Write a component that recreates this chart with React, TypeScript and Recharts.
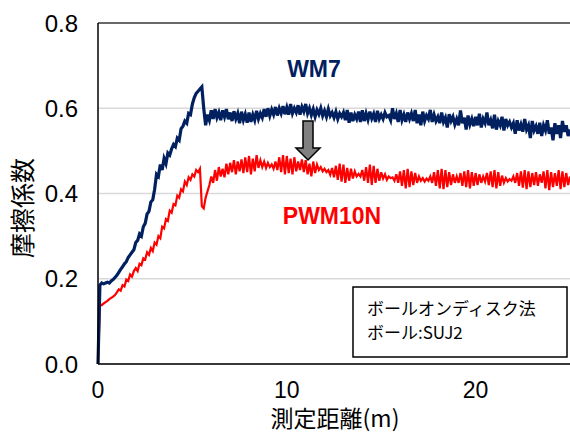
import React from "react"
import { LineChart, Line, XAxis, YAxis, CartesianGrid, ReferenceLine } from "recharts"

// sliding distance sampled every 0.1 m, 0 .. 25 m
const STEP_M = 0.1

// friction coefficient, WM7 (navy)
const wm7 = [
  0.0, 0.185, 0.19, 0.188, 0.19, 0.192, 0.19, 0.195, 0.198, 0.203,
  0.208, 0.215, 0.222, 0.228, 0.235, 0.24, 0.25, 0.256, 0.262, 0.268,
  0.285, 0.29, 0.305, 0.3, 0.322, 0.33, 0.352, 0.358, 0.38, 0.385,
  0.41, 0.445, 0.44, 0.468, 0.455, 0.482, 0.47, 0.495, 0.49, 0.505,
  0.515, 0.51, 0.53, 0.525, 0.552, 0.558, 0.57, 0.565, 0.588, 0.585,
  0.61, 0.625, 0.635, 0.64, 0.645, 0.65, 0.6, 0.56, 0.585, 0.572,
  0.595, 0.575, 0.598, 0.578, 0.59, 0.572, 0.595, 0.58, 0.598, 0.574,
  0.59, 0.57, 0.593, 0.575, 0.588, 0.565, 0.592, 0.572, 0.586, 0.566,
  0.59, 0.568, 0.585, 0.572, 0.594, 0.575, 0.588, 0.578, 0.598, 0.58,
  0.6, 0.582, 0.597, 0.585, 0.603, 0.583, 0.6, 0.588, 0.605, 0.586,
  0.602, 0.585, 0.61, 0.588, 0.6, 0.59, 0.607, 0.585, 0.603, 0.592,
  0.61, 0.588, 0.6, 0.584, 0.598, 0.58, 0.596, 0.586, 0.6, 0.582,
  0.594, 0.58, 0.598, 0.582, 0.59, 0.578, 0.592, 0.575, 0.588, 0.58,
  0.59, 0.572, 0.596, 0.566, 0.59, 0.57, 0.585, 0.575, 0.592, 0.568,
  0.595, 0.57, 0.588, 0.573, 0.592, 0.576, 0.587, 0.568, 0.594, 0.575,
  0.585, 0.575, 0.59, 0.58, 0.583, 0.572, 0.6, 0.575, 0.588, 0.568,
  0.596, 0.572, 0.585, 0.568, 0.59, 0.575, 0.588, 0.57, 0.596, 0.565,
  0.585, 0.56, 0.592, 0.57, 0.583, 0.575, 0.596, 0.568, 0.585, 0.57,
  0.58, 0.565, 0.59, 0.568, 0.578, 0.555, 0.586, 0.57, 0.58, 0.562,
  0.575, 0.56, 0.595, 0.565, 0.578, 0.55, 0.583, 0.562, 0.575, 0.558,
  0.58, 0.56, 0.587, 0.555, 0.575, 0.565, 0.59, 0.56, 0.572, 0.553,
  0.585, 0.55, 0.57, 0.56, 0.58, 0.548, 0.575, 0.56, 0.568, 0.555,
  0.565, 0.54, 0.572, 0.548, 0.562, 0.545, 0.575, 0.55, 0.56, 0.53,
  0.57, 0.548, 0.558, 0.54, 0.566, 0.535, 0.56, 0.548, 0.572, 0.54,
  0.555, 0.525, 0.565, 0.54, 0.56, 0.53, 0.57, 0.545, 0.56, 0.535,
  0.55,
]

// friction coefficient, PWM10N (red)
const pwm10n = [
  0.0, 0.14, 0.138, 0.142, 0.145, 0.148, 0.152, 0.155, 0.158, 0.162,
  0.168, 0.175, 0.172, 0.185, 0.182, 0.198, 0.195, 0.21, 0.205, 0.218,
  0.225, 0.218, 0.235, 0.232, 0.248, 0.245, 0.262, 0.256, 0.272, 0.265,
  0.285, 0.28, 0.3, 0.295, 0.322, 0.318, 0.34, 0.336, 0.36, 0.355,
  0.375, 0.372, 0.395, 0.39, 0.41, 0.405, 0.428, 0.42, 0.438, 0.432,
  0.445, 0.44, 0.455, 0.45, 0.458, 0.37, 0.365, 0.39, 0.405, 0.42,
  0.44, 0.425, 0.455, 0.43, 0.462, 0.44, 0.458, 0.438, 0.47, 0.445,
  0.472, 0.45, 0.478, 0.445, 0.475, 0.452, 0.48, 0.448, 0.485, 0.45,
  0.488, 0.445, 0.482, 0.452, 0.49, 0.46, 0.478, 0.462, 0.475, 0.46,
  0.472, 0.462, 0.468, 0.458, 0.475, 0.455, 0.485, 0.45, 0.49, 0.445,
  0.488, 0.448, 0.482, 0.445, 0.485, 0.452, 0.475, 0.455, 0.48, 0.45,
  0.478, 0.445, 0.47, 0.44, 0.475, 0.448, 0.468, 0.455, 0.462, 0.452,
  0.458, 0.45, 0.455, 0.444, 0.46, 0.438, 0.465, 0.432, 0.47, 0.428,
  0.468, 0.425, 0.46, 0.43, 0.458, 0.435, 0.452, 0.44, 0.446, 0.44,
  0.455, 0.43, 0.462, 0.425, 0.468, 0.42, 0.465, 0.425, 0.458, 0.43,
  0.45, 0.435, 0.445, 0.432, 0.44, 0.436, 0.438, 0.43, 0.445, 0.425,
  0.452, 0.418, 0.455, 0.412, 0.458, 0.415, 0.452, 0.42, 0.448, 0.425,
  0.44, 0.43, 0.436, 0.428, 0.435, 0.43, 0.44, 0.425, 0.45, 0.418,
  0.455, 0.412, 0.458, 0.41, 0.455, 0.415, 0.45, 0.42, 0.445, 0.425,
  0.44, 0.425, 0.448, 0.418, 0.452, 0.415, 0.455, 0.412, 0.45, 0.418,
  0.448, 0.42, 0.445, 0.425, 0.44, 0.428, 0.448, 0.42, 0.452, 0.415,
  0.455, 0.412, 0.45, 0.418, 0.442, 0.425, 0.436, 0.428, 0.434, 0.43,
  0.44, 0.425, 0.448, 0.418, 0.452, 0.414, 0.455, 0.41, 0.452, 0.415,
  0.448, 0.42, 0.45, 0.418, 0.445, 0.425, 0.452, 0.412, 0.455, 0.408,
  0.45, 0.415, 0.448, 0.418, 0.455, 0.41, 0.452, 0.415, 0.448, 0.42,
  0.44,
]

const xTicks = [0, 10, 20]
const yTicks = [0, 0.2, 0.4, 0.6, 0.8]

const data = wm7.map((v, i) => ({
  d: Math.round(i * STEP_M * 10) / 10,
  wm7: v,
  pwm10n: pwm10n[i],
}))

const latin = "'Liberation Sans', Arial, 'Noto Sans CJK JP', sans-serif"
const cjk = "'Noto Sans CJK JP', 'Liberation Sans', sans-serif"

export default function App() {
  return (
    <div style={{ position: "absolute", left: 0, top: 0, width: 570, height: 433, background: "#fff" }}>
      <LineChart width={570} height={433} data={data} margin={{ top: 23, right: 0, left: 0, bottom: 0 }}>
        <CartesianGrid vertical={false} stroke="#d9d9d9" strokeWidth={1.5} />
        <XAxis
          dataKey="d"
          type="number"
          domain={[0, 25]}
          ticks={xTicks}
          height={69}
          tickLine={false}
          tickMargin={12}
          axisLine={{ stroke: "#000", strokeWidth: 1.5 }}
          tick={{ fontSize: 23, fill: "#000", fontFamily: latin }}
        />
        <YAxis
          type="number"
          domain={[0, 0.8]}
          ticks={yTicks}
          width={98}
          tickLine={false}
          tickMargin={14}
          tickFormatter={(v) => v.toFixed(1)}
          axisLine={{ stroke: "#000", strokeWidth: 1.5 }}
          tick={{ fontSize: 24, fill: "#000", fontFamily: latin }}
        />
        <ReferenceLine y={0.8} stroke="#404040" strokeWidth={1.5} />
        <Line dataKey="pwm10n" stroke="#ff0000" strokeWidth={2.2} dot={false} isAnimationActive={false} />
        <Line dataKey="wm7" stroke="#002060" strokeWidth={3.2} dot={false} isAnimationActive={false} />
      </LineChart>
      <svg width={570} height={433} style={{ position: "absolute", left: 0, top: 0, pointerEvents: "none" }}>
        <text
          x={21}
          y={208}
          transform="rotate(-90 21 208)"
          textAnchor="middle"
          dominantBaseline="central"
          fontSize={25}
          fontFamily={cjk}
          fill="#000"
        >
          摩擦係数
        </text>
        <text x={335} y={417} textAnchor="middle" dominantBaseline="central" fontSize={23} fontFamily={cjk} fill="#000">
          測定距離(m)
        </text>
        <text x={314} y={69} textAnchor="middle" dominantBaseline="central" fontSize={23} fontWeight="bold" fontFamily={latin} fill="#002060">
          WM7
        </text>
        <text x={332} y={216} textAnchor="middle" dominantBaseline="central" fontSize={23} fontWeight="bold" fontFamily={latin} fill="#ff0000">
          PWM10N
        </text>
        <polygon
          points="303,121 313,121 313,148 320,148 308,160 296,148 303,148"
          fill="#808080"
          stroke="#000"
          strokeWidth={1.5}
          strokeLinejoin="miter"
        />
        <rect x={353} y={287} width={214} height={70} fill="#fff" stroke="#000" strokeWidth={1.5} />
        <text x={367} y={307} dominantBaseline="central" fontSize={17} fontFamily={cjk} fill="#000">
          ボールオンディスク法
        </text>
        <text x={367} y={331} dominantBaseline="central" fontSize={17} fontFamily={cjk} fill="#000">
          ボール:SUJ2
        </text>
      </svg>
    </div>
  )
}
